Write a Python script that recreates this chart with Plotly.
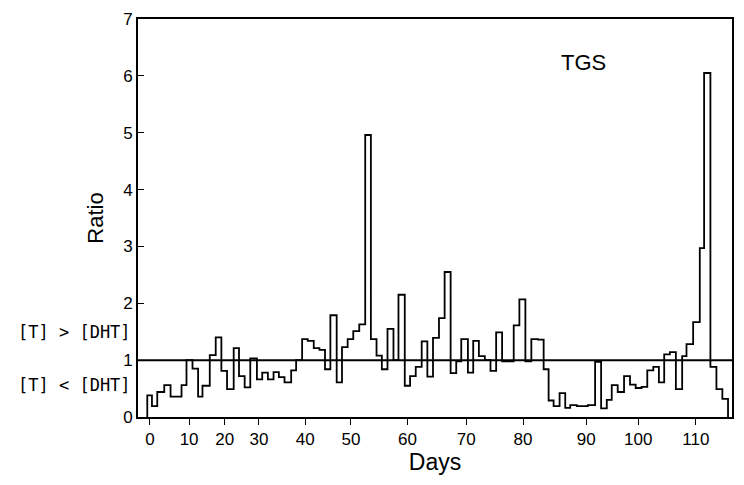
import plotly.graph_objects as go

# Step start positions (days on a linear scale) and the T/DHT ratio of each step
step_days = [-0.54, 0.40, 1.47, 2.88, 4.15, 6.36, 7.36, 8.57, 9.70, 10.58,
             12.05, 13.25, 14.39, 15.53, 16.87, 17.94, 19.08, 20.21, 21.55, 22.62,
             23.76, 24.90, 25.97, 27.11, 28.45, 29.45, 30.66, 31.79, 33.00, 34.14,
             35.27, 36.35, 37.62, 38.69, 39.83, 40.96, 42.17, 43.37, 44.51, 45.65,
             46.72, 47.86, 49.06, 50.07, 51.34, 52.41, 53.55, 54.75, 55.89, 57.03,
             58.23, 59.37, 60.58, 61.71, 62.72, 64.06, 65.13, 66.27, 67.47, 68.61,
             69.75, 70.95, 72.09, 73.29, 74.43, 75.64, 76.84, 78.18, 79.32, 80.32,
             81.33, 82.53, 83.67, 84.67, 86.01, 88.22, 89.69, 90.90, 92.04, 93.04,
             94.24, 95.52, 96.72, 97.86, 99.06, 100.20, 101.41, 102.54, 103.61, 104.75,
             105.96, 107.23, 108.10, 109.44, 110.78, 111.65, 112.92, 114.13, 115.33]
ratios = [0.38, 0.19, 0.44, 0.56, 0.36, 0.56, 1.00, 0.85, 0.36, 0.55,
          1.09, 1.40, 0.81, 0.49, 1.21, 0.72, 0.52, 1.03, 0.66, 0.78,
          0.66, 0.79, 0.70, 0.61, 0.82, 1.00, 1.37, 1.34, 1.21, 1.18,
          0.84, 1.79, 0.61, 1.23, 1.37, 1.51, 1.63, 4.96, 1.37, 1.08,
          0.84, 1.55, 1.00, 2.15, 0.55, 0.72, 0.88, 1.33, 0.71, 1.39,
          1.74, 2.55, 0.77, 0.98, 1.37, 0.78, 1.34, 1.07, 1.00, 0.81,
          1.49, 0.98, 0.98, 1.61, 2.07, 0.98, 1.37, 1.36, 0.84, 0.29,
          0.19, 0.42, 0.16, 0.21, 0.19, 0.21, 0.97, 0.15, 0.30, 0.56,
          0.44, 0.72, 0.57, 0.51, 0.53, 0.82, 0.88, 0.61, 1.10, 1.14,
          0.49, 1.07, 1.28, 1.67, 2.97, 6.05, 0.88, 0.49, 0.32]
last_day = 116.47
threshold = 1.0

x_tick_vals = [0, 7.89, 15.06, 21.95, 31.27, 40.5, 51.87, 63.71, 75.16, 87.89, 98.39, 109.98]
x_tick_text = ["0", "10", "20", "30", "40", "50", "60", "70", "80", "90", "100", "110"]
y_tick_vals = [0, 1, 2, 3, 4, 5, 6, 7]

xs = [step_days[0]] + step_days + [last_day, last_day]
ys = [0] + ratios + [ratios[-1], 0]

FONT = "Liberation Sans, Arial, Helvetica, sans-serif"
MONO = "DejaVu Sans Mono, monospace"

fig = go.Figure()
fig.add_trace(go.Scatter(x=xs, y=ys, mode="lines", line=dict(color="black", width=1.8, shape="hv"),
                         showlegend=False, hoverinfo="skip"))
fig.add_hline(y=threshold, line=dict(color="black", width=2))

fig.update_layout(
    width=744, height=485,
    margin=dict(l=138, r=10, t=11, b=68),
    plot_bgcolor="white", paper_bgcolor="white",
    font=dict(family=FONT, color="black", size=17),
    xaxis=dict(range=[-2.41, 117.27], tickmode="array", tickvals=x_tick_vals, ticktext=x_tick_text,
               ticks="outside", ticklen=6, tickwidth=1.3, tickcolor="black",
               showline=True, linecolor="black", linewidth=1.5, mirror=True,
               showgrid=False, zeroline=False, ticklabeloverflow="allow",
               title=dict(text="Days", font=dict(size=23), standoff=6),
               tickfont=dict(size=17)),
    yaxis=dict(range=[0, 7], tickmode="array", tickvals=y_tick_vals,
               ticks="inside", ticklen=6, tickwidth=1.3, tickcolor="black",
               showline=True, linecolor="black", linewidth=1.8, mirror=True,
               showgrid=False, zeroline=False, ticklabeloverflow="allow",
               title=dict(text="Ratio", font=dict(size=22), standoff=14),
               tickfont=dict(size=17)),
)

fig.add_annotation(x=87.35, y=6.24, xref="x", yref="y", text="TGS", showarrow=False,
                   font=dict(size=22, family=FONT))
fig.add_annotation(x=-0.009, y=1.5, xref="paper", yref="y", text="[T] > [DHT]", showarrow=False,
                   xanchor="right", font=dict(size=17, family=MONO))
fig.add_annotation(x=-0.009, y=0.57, xref="paper", yref="y", text="[T] < [DHT]", showarrow=False,
                   xanchor="right", font=dict(size=17, family=MONO))

# remove the browser's default page margin so the 744x485 figure fills the window exactly
fig.write_html("out.html", config={"displayModeBar": False},
               post_script="document.body.style.margin='0';document.body.style.overflow='hidden';")
